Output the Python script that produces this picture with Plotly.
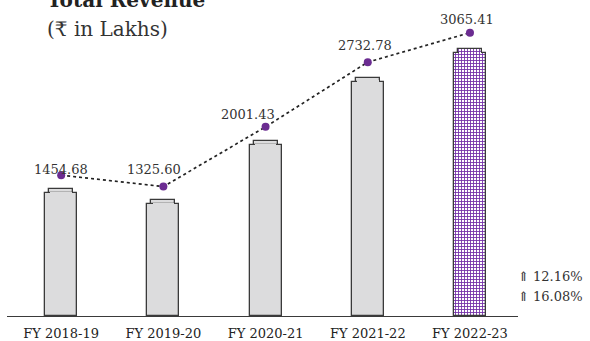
import plotly.graph_objects as go

# ---- data ----
years = ["FY 2018-19", "FY 2019-20", "FY 2020-21", "FY 2021-22", "FY 2022-23"]
revenue = [1454.68, 1325.60, 2001.43, 2732.78, 3065.41]
value_labels = ["1454.68", "1325.60", "2001.43", "2732.78", "3065.41"]
growth_notes = ["⇑ 12.16%", "⇑ 16.08%"]
title_text = "Total Revenue"
unit_text = "(₹ in Lakhs)"

# ---- style ----
FONT = "DejaVu Serif"
GRAY = "#dcdcdd"
EDGE = "#3a3a3a"
PURPLE = "#6b2c91"
HATCH = "#7330a8"
STEP = 46          # height of the stepped cap (value units)
BODY_W = 0.313
CAP_W = 0.235
COVER_W = 0.212

n = len(years)
patterns = [""] * (n - 1) + ["+"]

def pat():
    return dict(shape=patterns, fgcolor=HATCH, bgcolor="white",
                size=3, solidity=0.5, fgopacity=1, fillmode="replace")

fig = go.Figure()

# stepped cap (narrow, full height)
fig.add_trace(go.Bar(
    x=years, y=revenue, width=CAP_W,
    marker=dict(color=GRAY, line=dict(color=EDGE, width=1.3), pattern=pat()),
    showlegend=False, hoverinfo="skip"))
# main body
fig.add_trace(go.Bar(
    x=years, y=[v - STEP for v in revenue], width=BODY_W,
    marker=dict(color=GRAY, line=dict(color=EDGE, width=1.3), pattern=pat()),
    showlegend=False, hoverinfo="skip"))
# cover the seam between body and cap
fig.add_trace(go.Bar(
    x=years, y=[STEP * 0.7] * n, base=[v - STEP * 1.3 for v in revenue],
    width=COVER_W,
    marker=dict(color=GRAY, line=dict(width=0), pattern=pat()),
    showlegend=False, hoverinfo="skip"))

# dotted trend line with markers (secondary axis)
fig.add_trace(go.Scatter(
    x=years, y=revenue, yaxis="y2", mode="lines+markers",
    line=dict(color="#222222", width=1.7, dash="dot"),
    marker=dict(color=PURPLE, size=8),
    showlegend=False, hoverinfo="skip"))

label_dx = [0, -9, -18, -3, -3]
label_dy = [6, 17, 12.5, 17, 13]
annotations = []
for yr, v, t, dx, dy in zip(years, revenue, value_labels, label_dx, label_dy):
    annotations.append(dict(
        x=yr, y=v, xref="x", yref="y2", text=t, showarrow=False,
        xanchor="center", yanchor="middle", xshift=dx, yshift=dy,
        font=dict(family=FONT, size=13, color="#333333")))

annotations.append(dict(
    x=0.0744, y=1.0676, xref="paper", yref="paper", text="<b>" + title_text + "</b>",
    showarrow=False, xanchor="left", yanchor="middle",
    font=dict(family=FONT, size=20, color="#222222")))
annotations.append(dict(
    x=0.0744, y=0.9696, xref="paper", yref="paper", text=unit_text,
    showarrow=False, xanchor="left", yanchor="middle",
    font=dict(family=FONT, size=20, color="#333333")))
for note, yp in zip(growth_notes, [0.1350, 0.0675]):
    annotations.append(dict(
        x=0.9961, y=yp, xref="paper", yref="paper", text=note,
        showarrow=False, xanchor="left", yanchor="middle",
        font=dict(family=FONT, size=13, color="#333333")))

fig.update_layout(
    width=590, height=341,
    margin=dict(l=7, r=72, t=20, b=25),
    paper_bgcolor="white", plot_bgcolor="white",
    barmode="overlay", bargap=0,
    annotations=annotations,
    xaxis=dict(
        type="category", range=[-0.53, 4.47], automargin=False,
        showline=True, linecolor=EDGE, linewidth=1.3,
        showgrid=False, zeroline=False, ticks="", ticklabelstandoff=5,
        tickfont=dict(family=FONT, size=13, color="#222222")),
    yaxis=dict(range=[0, 3394], visible=False, showgrid=False, zeroline=False),
    yaxis2=dict(range=[-137, 3209], overlaying="y", visible=False,
                showgrid=False, zeroline=False),
)

fig.write_html("out.html")
